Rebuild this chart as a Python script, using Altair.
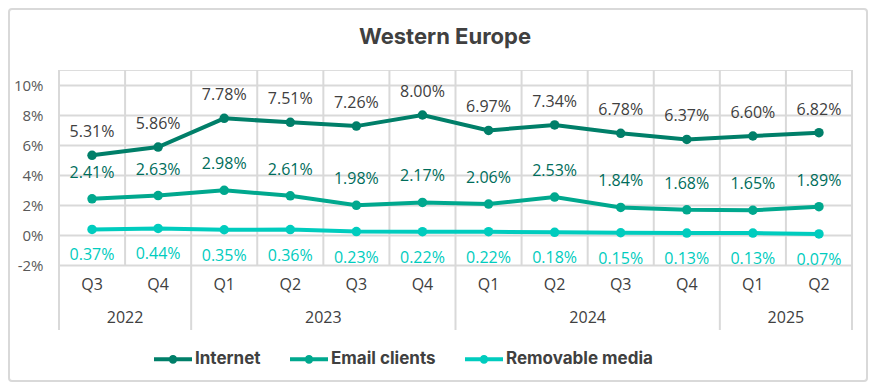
import altair as alt
import pandas as pd

quarters = ["Q3", "Q4", "Q1", "Q2", "Q3", "Q4", "Q1", "Q2", "Q3", "Q4", "Q1", "Q2"]
years = ["2022", "2022", "2023", "2023", "2023", "2023", "2024", "2024", "2024", "2024", "2025", "2025"]
internet = [5.31, 5.86, 7.78, 7.51, 7.26, 8.00, 6.97, 7.34, 6.78, 6.37, 6.60, 6.82]
email = [2.41, 2.63, 2.98, 2.61, 1.98, 2.17, 2.06, 2.53, 1.84, 1.68, 1.65, 1.89]
removable = [0.37, 0.44, 0.35, 0.36, 0.23, 0.22, 0.22, 0.18, 0.15, 0.13, 0.13, 0.07]
y_ticks = [-2, 0, 2, 4, 6, 8, 10]
series_names = ["Internet", "Email clients", "Removable media"]
series_colors = ["#007f69", "#00a88e", "#00ccbe"]
label_colors = ["#404040", "#006d5b", "#00ccbe"]
label_dy = [-23, -26, 26]

W, H = 793, 195
FONT = "Open Sans"

rows = []
for name, vals in zip(series_names, [internet, email, removable]):
    for i, v in enumerate(vals):
        rows.append({"series": name, "pos": i + 0.5, "value": v,
                     "label": f"{v:.2f}%", "quarter": quarters[i], "year": years[i]})
df = pd.DataFrame(rows)

qdf = pd.DataFrame({"pos": [i + 0.5 for i in range(len(quarters))], "quarter": quarters, "year": years})
ydf = qdf.groupby("year", as_index=False).agg(pos=("pos", "mean"), start=("pos", "min"), end=("pos", "max"))
ydf["start"] = ydf["start"] - 0.5
ydf["end"] = ydf["end"] + 0.5
bounds = pd.DataFrame({"b": list(range(len(quarters) + 1))})
ybounds = pd.DataFrame({"b": sorted(set(ydf["start"]).union(set(ydf["end"])))})

xs = alt.Scale(domain=[0, len(quarters)], nice=False, zero=False)
ys = alt.Scale(domain=[-2, 11], nice=False, zero=False)
color = alt.Color("series:N", scale=alt.Scale(domain=series_names, range=series_colors),
                  sort=series_names,
                  legend=alt.Legend(title=None, orient="none", direction="horizontal",
                                    legendX=93, legendY=268,
                                    symbolType="M-1,0L1,0M-0.12,0A0.12,0.12,0,1,1,0.12,0A0.12,0.12,0,1,1,-0.12,0",
                                    symbolSize=1444, symbolStrokeWidth=4,
                                    labelFont="Inter", labelFontWeight="bold", labelFontSize=17,
                                    labelColor="#404040", labelOffset=1, columnPadding=21,
                                    labelLimit=300))

y_axis = alt.Axis(
    values=y_ticks, labelExpr="datum.value + '%'", title=None,
    domain=False, ticks=False, grid=True, gridColor="#d9d9d9", gridWidth=2,
    labelOverlap=False, labelFlush=False,
    labelFont=FONT, labelFontSize=15, labelColor="#595959", labelPadding=16)
base_y = alt.Y("value:Q", scale=ys, axis=y_axis)
base_x = alt.X("pos:Q", scale=xs, axis=None)

border = alt.Chart(pd.DataFrame({"a": [0]})).mark_rect(
    fill="transparent", stroke="#d9d9d9", strokeWidth=2, cornerRadius=3
).encode(x=alt.value(-50), x2=alt.value(808), y=alt.value(-61), y2=alt.value(311))

title = alt.Chart(pd.DataFrame({"t": ["Western Europe"]})).mark_text(
    font="Inter", fontWeight="bold", fontSize=22, color="#404040", baseline="middle", align="center"
).encode(x=alt.value(386), y=alt.value(-33), text="t:N")

vgrid = alt.Chart(bounds).mark_rule(color="#d9d9d9", strokeWidth=2).encode(
    x=alt.X("b:Q", scale=xs, axis=None), y=alt.value(0), y2=alt.value(H))

ygrid_ext = alt.Chart(ybounds).mark_rule(color="#d9d9d9", strokeWidth=2).encode(
    x=alt.X("b:Q", scale=xs, axis=None), y=alt.value(H), y2=alt.value(260))

lines = alt.Chart(df).mark_line(strokeWidth=4, point=alt.OverlayMarkDef(size=90, filled=True)).encode(
    x=base_x, y=base_y, color=color)

label_layers = []
for name, col, dy in zip(series_names, label_colors, label_dy):
    label_layers.append(
        alt.Chart(df).transform_filter(alt.datum.series == name).mark_text(
            font=FONT, fontSize=16, color=col, dy=dy, baseline="middle"
        ).encode(x=base_x, y=base_y, text="label:N")
    )

qlabels = alt.Chart(qdf).mark_text(font=FONT, fontSize=16, color="#404040", baseline="middle").encode(
    x=base_x, y=alt.value(215), text="quarter:N")
ylabels = alt.Chart(ydf).mark_text(font=FONT, fontSize=16, color="#404040", baseline="middle").encode(
    x=base_x, y=alt.value(248), text="year:N")

chart = alt.layer(border, title, vgrid, ygrid_ext, lines, *label_layers, qlabels, ylabels).properties(
    width=W, height=H,
    autosize=alt.AutoSizeParams(type="none"),
    padding={"left": 51, "top": 62, "right": 16, "bottom": 117},
).configure_view(stroke=None).configure(background="white")

chart.save("out.html", embed_options={"renderer": "svg", "actions": False})
